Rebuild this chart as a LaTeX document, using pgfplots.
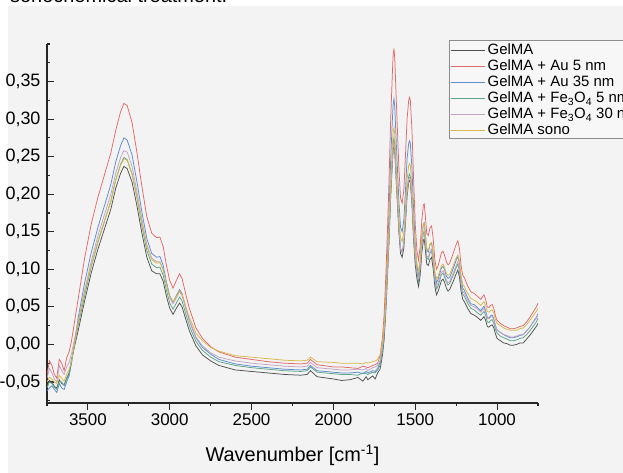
\documentclass[border=0pt]{standalone}
\usepackage{pgfplots}
\pgfplotsset{compat=1.18}
\usepackage{pgfplotstable}
\usepackage{fontspec}
\setmainfont{Liberation Sans}
\definecolor{bggray}{HTML}{F3F3F3}
\definecolor{cGel}{HTML}{505050}
\definecolor{cAu5}{HTML}{E2696B}
\definecolor{cAu35}{HTML}{5B8BD0}
\definecolor{cFe5}{HTML}{5AA68A}
\definecolor{cFe30}{HTML}{C4A3C0}
\definecolor{cSono}{HTML}{D8B84A}
\pgfplotstableread{
x D R B T G Y
3750 -0.055 -0.040 -0.062 -0.058 -0.045 -0.050
3735 -0.048 -0.022 -0.058 -0.050 -0.032 -0.044
3720 -0.050 -0.028 -0.055 -0.052 -0.038 -0.046
3705 -0.056 -0.040 -0.060 -0.057 -0.046 -0.050
3690 -0.058 -0.045 -0.064 -0.060 -0.050 -0.052
3675 -0.047 -0.020 -0.052 -0.049 -0.028 -0.041
3660 -0.052 -0.025 -0.058 -0.050 -0.035 -0.045
3645 -0.054 -0.035 -0.060 -0.055 -0.040 -0.049
3630 -0.045 -0.018 -0.050 -0.046 -0.030 -0.040
3615 -0.038 -0.010 -0.042 -0.040 -0.024 -0.034
3600 -0.020 0.005 -0.025 -0.022 -0.012 -0.022
3560 0.018 0.060 0.035 0.025 0.030 0.028
3520 0.058 0.115 0.082 0.065 0.072 0.070
3480 0.095 0.160 0.122 0.103 0.110 0.105
3440 0.126 0.195 0.155 0.135 0.144 0.137
3400 0.153 0.225 0.184 0.163 0.172 0.164
3360 0.180 0.255 0.213 0.191 0.200 0.190
3330 0.208 0.285 0.243 0.219 0.228 0.219
3300 0.228 0.310 0.265 0.240 0.249 0.239
3280 0.237 0.321 0.275 0.249 0.258 0.247
3260 0.234 0.318 0.272 0.246 0.256 0.245
3230 0.216 0.295 0.252 0.227 0.237 0.227
3200 0.184 0.255 0.216 0.195 0.203 0.196
3170 0.148 0.210 0.176 0.158 0.166 0.161
3140 0.116 0.170 0.141 0.125 0.133 0.130
3110 0.098 0.148 0.121 0.107 0.115 0.113
3080 0.094 0.142 0.116 0.102 0.110 0.108
3060 0.094 0.143 0.117 0.103 0.110 0.109
3040 0.084 0.130 0.105 0.092 0.100 0.099
3020 0.064 0.105 0.083 0.072 0.079 0.080
3000 0.048 0.085 0.065 0.055 0.062 0.064
2980 0.040 0.075 0.056 0.047 0.054 0.057
2960 0.048 0.085 0.065 0.055 0.062 0.064
2940 0.055 0.094 0.073 0.063 0.070 0.071
2925 0.050 0.088 0.068 0.058 0.065 0.067
2900 0.032 0.065 0.047 0.039 0.046 0.049
2880 0.018 0.048 0.032 0.025 0.032 0.036
2860 0.008 0.035 0.020 0.014 0.021 0.026
2840 -0.002 0.022 0.009 0.004 0.010 0.015
2800 -0.014 0.008 -0.004 -0.008 -0.002 0.005
2750 -0.022 -0.003 -0.013 -0.017 -0.011 -0.004
2700 -0.028 -0.010 -0.020 -0.023 -0.017 -0.009
2600 -0.034 -0.017 -0.026 -0.028 -0.022 -0.015
2500 -0.036 -0.020 -0.029 -0.031 -0.025 -0.017
2400 -0.038 -0.023 -0.031 -0.033 -0.027 -0.019
2300 -0.040 -0.025 -0.033 -0.035 -0.029 -0.021
2200 -0.041 -0.026 -0.034 -0.036 -0.030 -0.022
2160 -0.040 -0.025 -0.033 -0.035 -0.029 -0.021
2140 -0.035 -0.020 -0.028 -0.030 -0.024 -0.017
2100 -0.043 -0.027 -0.035 -0.037 -0.031 -0.023
2000 -0.046 -0.030 -0.037 -0.039 -0.033 -0.024
1950 -0.048 -0.030 -0.038 -0.040 -0.034 -0.025
1900 -0.047 -0.031 -0.038 -0.040 -0.034 -0.025
1850 -0.044 -0.032 -0.037 -0.041 -0.033 -0.025
1820 -0.049 -0.029 -0.039 -0.038 -0.034 -0.026
1800 -0.043 -0.030 -0.036 -0.039 -0.032 -0.024
1790 -0.047 -0.031 -0.038 -0.040 -0.035 -0.025
1760 -0.042 -0.028 -0.035 -0.037 -0.031 -0.023
1745 -0.046 -0.027 -0.036 -0.038 -0.030 -0.022
1730 -0.038 -0.025 -0.032 -0.034 -0.028 -0.020
1715 -0.033 -0.015 -0.024 -0.028 -0.022 -0.014
1700 -0.014 0.010 -0.003 -0.009 -0.004 0.005
1690 0.007 0.040 0.023 0.013 0.017 0.027
1680 0.044 0.090 0.066 0.050 0.053 0.064
1670 0.088 0.150 0.118 0.095 0.095 0.109
1660 0.139 0.220 0.178 0.146 0.145 0.160
1650 0.197 0.300 0.247 0.206 0.202 0.220
1640 0.241 0.360 0.298 0.250 0.244 0.264
1635 0.259 0.385 0.320 0.268 0.262 0.282
1630 0.266 0.394 0.327 0.275 0.269 0.289
1625 0.256 0.380 0.315 0.265 0.259 0.279
1615 0.212 0.320 0.264 0.220 0.216 0.234
1600 0.150 0.235 0.191 0.157 0.156 0.171
1590 0.121 0.195 0.156 0.128 0.127 0.142
1580 0.116 0.188 0.150 0.123 0.122 0.137
1570 0.128 0.205 0.165 0.135 0.134 0.149
1560 0.161 0.250 0.204 0.169 0.166 0.183
1550 0.197 0.300 0.247 0.206 0.202 0.220
1540 0.216 0.325 0.268 0.224 0.220 0.238
1535 0.218 0.329 0.271 0.227 0.222 0.241
1530 0.216 0.325 0.268 0.224 0.220 0.238
1520 0.186 0.285 0.234 0.194 0.191 0.208
1510 0.139 0.220 0.178 0.146 0.145 0.160
1500 0.106 0.160 0.132 0.113 0.115 0.127
1490 0.088 0.125 0.105 0.096 0.099 0.108
1480 0.077 0.112 0.093 0.084 0.088 0.097
1470 0.092 0.130 0.110 0.100 0.103 0.112
1460 0.122 0.165 0.142 0.130 0.133 0.142
1450 0.139 0.186 0.161 0.149 0.150 0.161
1445 0.140 0.187 0.162 0.149 0.151 0.161
1440 0.130 0.175 0.151 0.139 0.141 0.151
1430 0.107 0.148 0.126 0.116 0.118 0.128
1420 0.105 0.145 0.123 0.113 0.116 0.125
1410 0.113 0.155 0.133 0.122 0.124 0.134
1400 0.116 0.158 0.135 0.124 0.127 0.136
1390 0.100 0.140 0.119 0.109 0.111 0.121
1380 0.077 0.112 0.093 0.084 0.088 0.097
1370 0.066 0.100 0.082 0.074 0.077 0.087
1360 0.071 0.105 0.087 0.078 0.082 0.091
1340 0.085 0.122 0.102 0.093 0.096 0.105
1330 0.087 0.124 0.104 0.095 0.098 0.107
1320 0.082 0.118 0.099 0.089 0.093 0.102
1310 0.075 0.110 0.091 0.083 0.086 0.095
1300 0.071 0.106 0.088 0.079 0.082 0.092
1290 0.073 0.108 0.089 0.081 0.084 0.093
1270 0.083 0.120 0.100 0.091 0.094 0.104
1250 0.094 0.133 0.112 0.102 0.105 0.115
1240 0.099 0.138 0.117 0.107 0.110 0.119
1230 0.090 0.128 0.108 0.098 0.101 0.111
1220 0.071 0.105 0.087 0.078 0.082 0.091
1210 0.060 0.092 0.075 0.067 0.071 0.080
1200 0.057 0.089 0.072 0.064 0.068 0.077
1180 0.048 0.078 0.062 0.055 0.059 0.068
1160 0.041 0.070 0.054 0.048 0.052 0.061
1140 0.039 0.068 0.053 0.046 0.050 0.059
1120 0.036 0.064 0.049 0.042 0.047 0.056
1100 0.032 0.060 0.045 0.039 0.043 0.052
1080 0.037 0.066 0.051 0.044 0.048 0.057
1070 0.032 0.060 0.045 0.039 0.043 0.052
1060 0.024 0.050 0.036 0.030 0.035 0.044
1050 0.023 0.049 0.035 0.029 0.034 0.043
1040 0.025 0.052 0.038 0.032 0.036 0.045
1030 0.026 0.053 0.039 0.033 0.037 0.046
1020 0.022 0.048 0.034 0.028 0.033 0.042
1010 0.014 0.038 0.025 0.020 0.025 0.033
1000 0.008 0.032 0.019 0.015 0.019 0.028
980 0.005 0.028 0.016 0.011 0.016 0.025
960 0.002 0.025 0.013 0.009 0.013 0.022
940 0.001 0.023 0.011 0.007 0.012 0.020
920 -0.001 0.021 0.009 0.005 0.010 0.019
900 -0.001 0.021 0.009 0.005 0.010 0.019
880 0.000 0.022 0.010 0.006 0.011 0.019
860 0.002 0.024 0.012 0.008 0.013 0.021
840 0.002 0.025 0.013 0.009 0.013 0.022
820 0.007 0.030 0.018 0.013 0.018 0.026
800 0.012 0.036 0.023 0.018 0.023 0.032
780 0.018 0.043 0.030 0.024 0.029 0.038
760 0.024 0.050 0.036 0.030 0.035 0.044
750 0.028 0.055 0.041 0.035 0.039 0.048
}\spectra
\begin{document}
\begin{tikzpicture}[x=1bp,y=1bp]
\useasboundingbox (0,0) rectangle (623,473);
\clip (0,0) rectangle (623,473);
\fill[white] (0,0) rectangle (623,473);
\fill[bggray] (8,0) rectangle (623,467);
\node[anchor=base west, inner sep=0pt, font=\fontsize{20}{24}\selectfont] at (10,470) {sonochemical treatment.};
\begin{axis}[
  at={(47bp,70bp)}, anchor=south west,
  width=491bp, height=359bp, scale only axis,
  xmin=750, xmax=3750, x dir=reverse,
  ymin=-0.078, ymax=0.40,
  axis x line*=bottom, axis y line*=left,
  axis line style={line width=1.2bp, color=black!85},
  every tick/.style={line width=1.1bp, color=black!85},
  xtick={1000,1500,2000,2500,3000,3500},
  minor xtick={750,1250,1750,2250,2750,3250,3750},
  ytick={-0.05,0,0.05,0.1,0.15,0.2,0.25,0.3,0.35},
  minor ytick={-0.075,-0.025,0.025,0.075,0.125,0.175,0.225,0.275,0.325,0.375,0.40},
  xtick align=outside, ytick align=inside,
  major tick length=7bp, minor tick length=3.5bp,
  /pgf/number format/assume math mode=true,
  xticklabel style={font=\fontsize{17}{20}\selectfont, /pgf/number format/1000 sep={}},
  yticklabel style={font=\fontsize{18}{20}\selectfont, xshift=-3bp, /pgf/number format/.cd, fixed, fixed zerofill, precision=2, use comma},
  xlabel={Wavenumber [cm\textsuperscript{-1}]},
  xlabel style={font=\fontsize{20}{24}\selectfont, at={(axis description cs:0.5,0)}, anchor=base, yshift=-59bp},
  legend cell align=left,
  legend style={at={(axis description cs:0.8187,1.0111)}, anchor=north west,
    draw=black!45, line width=0.6bp, fill=white!97!black,
    font=\fontsize{15}{15}\selectfont,
    inner xsep=1bp, inner ysep=1bp, row sep=0bp,
    nodes={inner xsep=2.5bp, inner ysep=0bp, text height=13.5bp, text depth=2.5bp}},
  legend image code/.code={\draw[#1, line width=0.9bp] (0bp,-1bp) -- (34bp,-1bp);},
  every axis plot/.append style={line width=0.75bp},
]
\addplot[cGel, no marks] table[x=x, y=D] {\spectra};
\addlegendentry{GelMA}
\addplot[cAu5, no marks] table[x=x, y=R] {\spectra};
\addlegendentry{GelMA + Au 5 nm}
\addplot[cAu35, no marks] table[x=x, y=B] {\spectra};
\addlegendentry{GelMA + Au 35 nm}
\addplot[cFe5, no marks] table[x=x, y=T] {\spectra};
\addlegendentry{GelMA + Fe\textsubscript{3}O\textsubscript{4} 5 nm}
\addplot[cFe30, no marks] table[x=x, y=G] {\spectra};
\addlegendentry{GelMA + Fe\textsubscript{3}O\textsubscript{4} 30 nm}
\addplot[cSono, no marks] table[x=x, y=Y] {\spectra};
\addlegendentry{GelMA sono}
\end{axis}
\end{tikzpicture}
\end{document}
